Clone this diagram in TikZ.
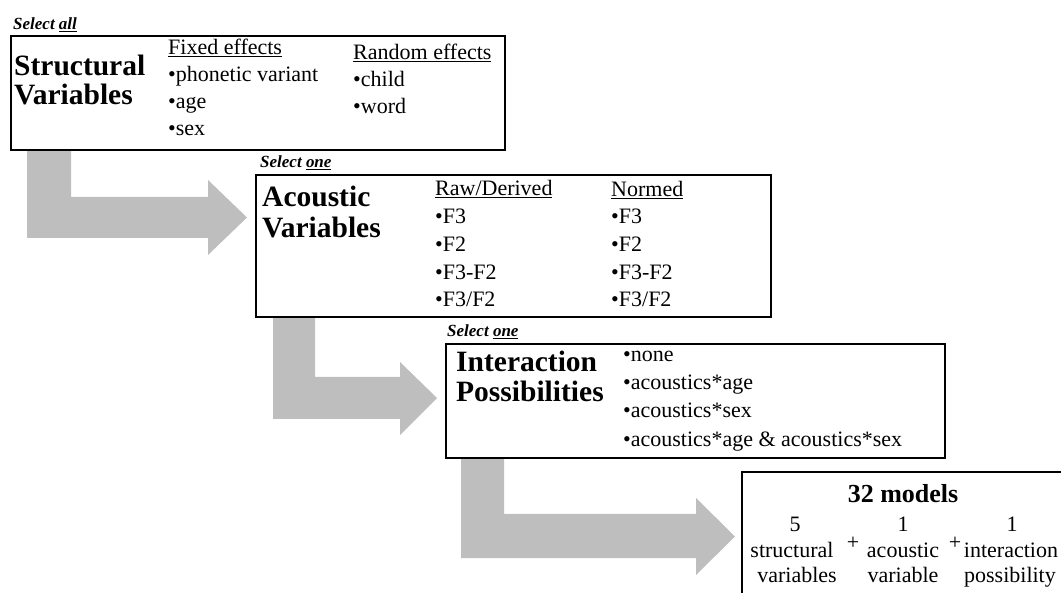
\documentclass[tikz,border=0pt]{standalone}
\usepackage{fontspec}
\setmainfont{Liberation Serif}
\definecolor{arrowgray}{RGB}{190,190,190}
\tikzset{
  box/.style={draw=black, line width=2pt, fill=white, inner sep=0pt, anchor=north west},
  ttl/.style={font=\fontsize{29.5}{30}\selectfont\bfseries, anchor=base west, inner sep=0pt},
  itm/.style={font=\fontsize{22}{27}\selectfont, anchor=base west, inner sep=0pt},
  ctr/.style={font=\fontsize{22}{27}\selectfont, anchor=base, inner sep=0pt},
  sel/.style={font=\fontsize{17}{18}\selectfont\bfseries\itshape, anchor=base west, inner sep=0pt},
  flow/.style={fill=arrowgray, draw=none},
}
\begin{document}
\begin{tikzpicture}[x=1pt, y=-1pt]
\useasboundingbox (0,0) rectangle (1061,593);
\clip (0,0) rectangle (1061,593);
% block arrows
\draw[flow] (27,149) -- (71,149) -- (71,197) -- (208,197) -- (208,180) -- (247,217.5) -- (208,255) -- (208,238) -- (27,238) -- cycle;
\draw[flow] (273,316) -- (315,316) -- (315,377) -- (400,377) -- (400,362) -- (437,398) -- (400,435) -- (400,419) -- (273,419) -- cycle;
\draw[flow] (461,457) -- (504,457) -- (504,514) -- (696,514) -- (696,498) -- (735,536.5) -- (696,575) -- (696,558) -- (461,558) -- cycle;
% box 1
\node[box, minimum width=494pt, minimum height=114pt] (b1) at (10,35) {};
\node[sel] (s1) at (13,30) {Select \underline{all}};
\node[ttl] (t1a) at (14,76) {Structural};
\node[ttl] (t1b) at (14,105) {Variables};
\node[itm] (f0) at (168,55) {\underline{Fixed effects}};
\node[itm] (f1) at (168,82) {•phonetic variant};
\node[itm] (f2) at (168,109) {•age};
\node[itm] (f3) at (168,136) {•sex};
\node[itm] (r0) at (353,60) {\underline{Random effects}};
\node[itm] (r1) at (353,87) {•child};
\node[itm] (r2) at (353,114) {•word};
% box 2
\node[box, minimum width=515pt, minimum height=142pt] (b2) at (255,174) {};
\node[sel] (s2) at (260,168) {Select \underline{one}};
\node[ttl] (t2a) at (262,207) {Acoustic};
\node[ttl] (t2b) at (262,238) {Variables};
\node[itm] (a0) at (435,196) {\underline{Raw/Derived}};
\node[itm] (a1) at (435,224) {•F3};
\node[itm] (a2) at (435,252) {•F2};
\node[itm] (a3) at (435,280) {•F3-F2};
\node[itm] (a4) at (435,307) {•F3/F2};
\node[itm] (n0) at (611,197) {\underline{Normed}};
\node[itm] (n1) at (611,224) {•F3};
\node[itm] (n2) at (611,252) {•F2};
\node[itm] (n3) at (611,280) {•F3-F2};
\node[itm] (n4) at (611,307) {•F3/F2};
% box 3
\node[box, minimum width=499pt, minimum height=114pt] (b3) at (445,343) {};
\node[sel] (s3) at (447,337) {Select \underline{one}};
\node[ttl] (t3a) at (456,372) {Interaction};
\node[ttl] (t3b) at (456,402) {Possibilities};
\node[itm] (i1) at (623,362) {•none};
\node[itm] (i2) at (623,390) {•acoustics*age};
\node[itm] (i3) at (623,418) {•acoustics*sex};
\node[itm] (i4) at (623,447) {•acoustics*age \& acoustics*sex};
% box 4
\node[box, minimum width=340pt, minimum height=140pt] (b4) at (741,471) {};
\node[font=\fontsize{26}{27}\selectfont\bfseries, anchor=base, inner sep=0pt] (m0) at (903,503) {32 models};
\node[ctr] (c1) at (795,532) {5};
\node[ctr] (c2) at (903,532) {1};
\node[ctr] (c3) at (1012,532) {1};
\node[ctr] (d1) at (792,558) {structural};
\node[ctr] (d2) at (903,558) {acoustic};
\node[ctr] (d3) at (1011,558) {interaction};
\node[ctr] (e1) at (797,582) {variables};
\node[ctr] (e2) at (903,582) {variable};
\node[ctr] (e3) at (1010,582) {possibility};
\node[ctr] (p1) at (853,549) {+};
\node[ctr] (p2) at (955,549) {+};
\end{tikzpicture}
\end{document}
